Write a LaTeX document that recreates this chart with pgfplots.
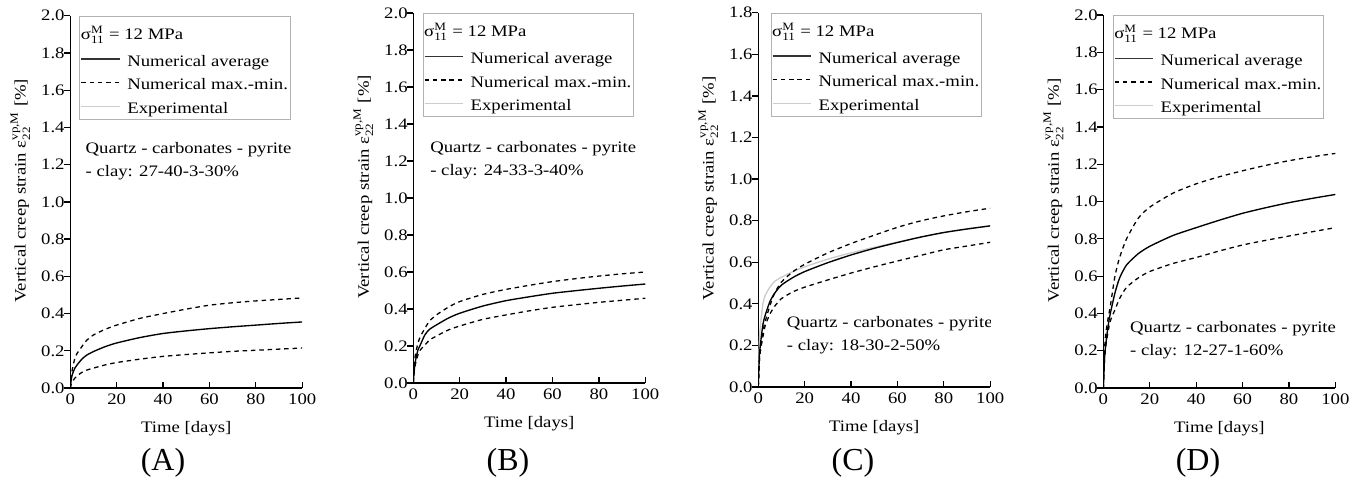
\documentclass[border=0pt]{standalone}
\usepackage{amsmath}
\usepackage{fontspec}
\setmainfont{Liberation Serif}[FakeStretch=1.17]
\newfontfamily\capfont{Liberation Serif}
\usepackage{pgfplots}
\pgfplotsset{compat=1.18}
\usepackage{pgfplotstable}

\pgfplotstableread{
x    avg    mx     mn
0    0      0      0
0.5  0.050  0.070  0.025
1    0.077  0.107  0.036
2    0.107  0.160  0.053
3    0.125  0.187  0.066
5    0.155  0.222  0.084
7    0.176  0.255  0.096
10   0.196  0.285  0.107
15   0.222  0.315  0.124
20   0.242  0.338  0.137
30   0.271  0.374  0.155
40   0.293  0.400  0.170
50   0.307  0.424  0.180
60   0.319  0.445  0.189
70   0.329  0.458  0.197
80   0.338  0.468  0.203
90   0.347  0.476  0.209
100  0.355  0.484  0.215
}\dataA
\pgfplotstableread{
x    avg    mx     mn
0    0      0      0
0.5  0.080  0.110  0.070
1    0.124  0.160  0.106
2    0.178  0.214  0.151
3    0.205  0.250  0.178
5    0.260  0.295  0.205
7    0.290  0.335  0.232
10   0.314  0.368  0.254
15   0.350  0.409  0.286
20   0.377  0.440  0.308
30   0.416  0.479  0.344
40   0.445  0.506  0.368
50   0.466  0.528  0.390
60   0.485  0.548  0.409
70   0.499  0.564  0.423
80   0.512  0.578  0.436
90   0.524  0.590  0.447
100  0.535  0.600  0.458
}\dataB
\pgfplotstableread{
x    avg    mx     mn     ex
0    0      0      0      0
0.5  0.150  0.130  0.130  0.220
1    0.210  0.180  0.180  0.300
2    0.300  0.270  0.240  0.400
3    0.345  0.315  0.295  0.440
5    0.410  0.390  0.350  0.480
7    0.450  0.450  0.387  0.507
10   0.490  0.505  0.425  0.528
15   0.527  0.555  0.458  0.555
20   0.555  0.590  0.480  0.578
30   0.598  0.645  0.515  0.615
40   0.635  0.690  0.548  0.645
50   0.667  0.730  0.578  0.672
60   0.695  0.768  0.606  0.697
70   0.721  0.799  0.633  0.721
80   0.743  0.823  0.660  0.743
90   0.760  0.843  0.678  0.760
100  0.775  0.860  0.696  0.775
}\dataC
\pgfplotstableread{
x    avg    mx     mn
0    0      0      0
0.5  0.160  0.200  0.150
1    0.230  0.290  0.220
2    0.330  0.370  0.300
3    0.400  0.440  0.360
5    0.510  0.600  0.420
7    0.590  0.700  0.480
10   0.660  0.800  0.540
15   0.720  0.910  0.590
20   0.760  0.970  0.625
30   0.818  1.045  0.668
40   0.860  1.095  0.700
50   0.900  1.133  0.735
60   0.937  1.165  0.767
70   0.967  1.194  0.792
80   0.994  1.219  0.815
90   1.017  1.240  0.838
100  1.038  1.258  0.860
}\dataD

\newcommand\sigline{\hspace*{-29pt}\raisebox{2pt}{$\text{σ}^{\text{M}}_{\text{11}}$ = 12 MPa}}

\pgfplotsset{
  creep/.style={
    scale only axis, width=145pt,
    xmin=0, xmax=100, ymin=0,
    axis lines=left, axis line style={-, line width=0.8pt},
    tick align=inside, major tick length=3.75pt,
    tick style={black, line width=0.8pt},
    ytick style={xshift=-3.75pt},
    xtick={0,20,...,100},
    /pgf/number format/assume math mode=true,
    yticklabel style={/pgf/number format/fixed, /pgf/number format/fixed zerofill, /pgf/number format/precision=1},
    xlabel={Time [days]},
    xlabel style={yshift=-4pt},
    ylabel={Vertical creep strain $\text{ε}^{\text{vp,M}}_{\text{22}}$ [\%]},
    ylabel style={at={(ticklabel cs:0.53)}},
    legend style={anchor=north west, draw=gray!60, line width=0.6pt, inner sep=0.5pt,
      row sep=-4.6pt, column sep=3.4pt,
      nodes={anchor=base west, inner sep=1pt, text height=15pt, text depth=2.35pt}},
    legend image code/.code={\draw[##1] (0pt,4.5pt) -- (24pt,4.5pt);},
  },
  avg/.style={black, line width=0.85pt, smooth, tension=0.4},
  mm/.style={black, line width=0.8pt, dash pattern=on 2.8pt off 2.4pt, smooth, tension=0.4},
  expc/.style={gray!40, line width=0.85pt, smooth, tension=0.4},
}

\newcommand\legendentries{%
  \addlegendimage{empty legend}\addlegendentry{\sigline}
  \addlegendimage{black!80, line width=0.85pt}\addlegendentry{Numerical average}
  \addlegendimage{black, line width=0.8pt, dash pattern=on 2.8pt off 2.4pt}\addlegendentry{Numerical max.-min.}
  \addlegendimage{gray!40, line width=0.85pt}\addlegendentry{Experimental}
}

\begin{document}
\begin{tikzpicture}
\useasboundingbox (0,0) rectangle (853.125pt,303.125pt);

% (A)
\begin{axis}[creep, at={(43.9pt,60.6pt)}, anchor=south west, height=232.7pt,
  ymax=2, ytick={0,0.2,...,2.01}, legend style={at={(0.039,1)}}]
\legendentries
\addplot[avg, forget plot] table[x=x, y=avg] {\dataA};
\addplot[mm, forget plot] table[x=x, y=mx] {\dataA};
\addplot[mm, forget plot] table[x=x, y=mn] {\dataA};
\node[anchor=west, align=left, inner sep=0pt, font=\fontsize{10}{14.5}\selectfont]
  at (rel axis cs:0.065,0.609) {Quartz - carbonates - pyrite\\- clay: 27-40-3-30\%};
\end{axis}

% (B)
\begin{axis}[creep, at={(258.3pt,63.75pt)}, anchor=south west, height=231.25pt,
  ymax=2, ytick={0,0.2,...,2.01}, legend style={at={(0.04,1)}}]
\legendentries
\addplot[avg, forget plot] table[x=x, y=avg] {\dataB};
\addplot[mm, forget plot] table[x=x, y=mx] {\dataB};
\addplot[mm, forget plot] table[x=x, y=mn] {\dataB};
\node[anchor=west, align=left, inner sep=0pt, font=\fontsize{10}{14.5}\selectfont]
  at (rel axis cs:0.072,0.603) {Quartz - carbonates - pyrite\\- clay: 24-33-3-40\%};
\end{axis}

% (C)
\begin{axis}[creep, at={(473.9pt,61.25pt)}, anchor=south west, height=233.9pt,
  ymax=1.8, ytick={0,0.2,...,1.81}, legend style={at={(0.053,1)}}]
\legendentries
\addplot[expc, forget plot] table[x=x, y=ex] {\dataC};
\addplot[avg, forget plot] table[x=x, y=avg] {\dataC};
\addplot[mm, forget plot] table[x=x, y=mx] {\dataC};
\addplot[mm, forget plot] table[x=x, y=mn] {\dataC};
\node[anchor=west, align=left, inner sep=0pt, font=\fontsize{10}{14.5}\selectfont]
  at (rel axis cs:0.122,0.139) {Quartz - carbonates - pyrite\\- clay: 18-30-2-50\%};
\end{axis}

% (D)
\begin{axis}[creep, at={(689.6pt,60.6pt)}, anchor=south west, height=233.1pt,
  ymax=2, ytick={0,0.2,...,2.01}, legend style={at={(0.04,1)}}]
\legendentries
\addplot[avg, forget plot] table[x=x, y=avg] {\dataD};
\addplot[mm, forget plot] table[x=x, y=mx] {\dataD};
\addplot[mm, forget plot] table[x=x, y=mn] {\dataD};
\node[anchor=west, align=left, inner sep=0pt, font=\fontsize{10}{14.5}\selectfont]
  at (rel axis cs:0.114,0.129) {Quartz - carbonates - pyrite\\- clay: 12-27-1-60\%};
\end{axis}

\node[font=\capfont\fontsize{20}{24}\selectfont] at (101.9pt,13.75pt) {(A)};
\node[font=\capfont\fontsize{20}{24}\selectfont] at (317.5pt,13.75pt) {(B)};
\node[font=\capfont\fontsize{20}{24}\selectfont] at (533.1pt,13.75pt) {(C)};
\node[font=\capfont\fontsize{20}{24}\selectfont] at (748.75pt,13.75pt) {(D)};
\end{tikzpicture}
\end{document}
